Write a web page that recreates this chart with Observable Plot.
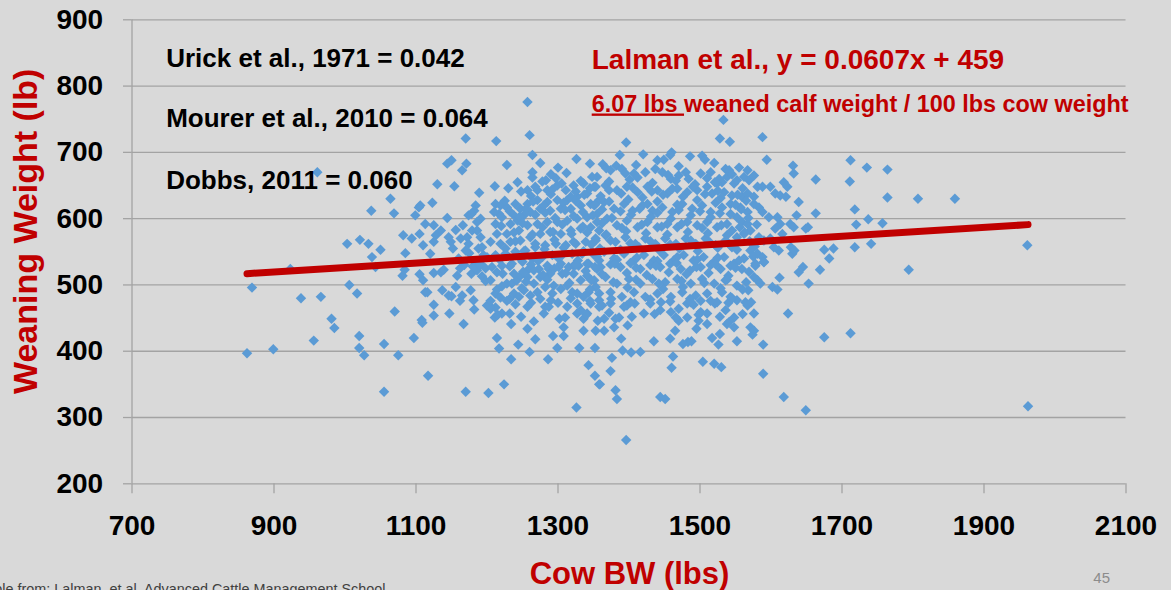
<!DOCTYPE html>
<html>
<head>
<meta charset="utf-8">
<script src="https://cdn.jsdelivr.net/npm/d3@7"></script>
<script src="https://cdn.jsdelivr.net/npm/@observablehq/plot@0.6"></script>
<style>
  html, body { margin: 0; padding: 0; background: #d9d9d9; overflow: hidden; }
  #chart { width: 1171px; height: 590px; }
</style>
</head>
<body>
<div id="chart"></div>
<script>
// ---------- tick values ----------
const xTicks = [700, 900, 1100, 1300, 1500, 1700, 1900, 2100];
const yTicks = [200, 300, 400, 500, 600, 700, 800, 900];

// ---------- observations: [cow BW (lbs), weaning weight (lb)] ----------
const leftTail = [
  [862,397],[869,496],[899,403],[923,524],[938,480],[956,416],[966,482],[961,670],[981,449],[985,435],
  [1003,562],[1006,500],[1017,487],[1020,423],[1020,405],[1021,568],[1027,394],[1033,562],[1037,612],[1038,542],
  [1043,527],[1050,553],[1055,411],[1055,339],[1064,630],[1069,608],[1070,460],[1075,394],[1082,575],[1085,548],
  [1094,570],[1099,605],[1081,514],[1084,523],[1097,420]
];

const band1100 = [
  [1104,617],[1106,620],[1105,577],[1110,560],[1113,592],[1123,624],[1125,590],[1135,582],[1128,575],[1120,547],
  [1125,565],[1130,652],[1144,683],[1150,688],[1144,601],[1146,572],[1149,565],[1105,516],[1110,507],[1113,489],
  [1116,489],[1125,518],[1135,519],[1139,523],[1137,492],[1146,484],[1150,483],[1108,447],[1109,443],[1117,363],
  [1125,470],[1125,454],[1147,457],[1170,721],[1165,673],[1171,683],[1154,649],[1156,583],[1163,570],[1172,572],
  [1174,562],[1184,620],[1182,612],[1174,605],[1191,600],[1186,595],[1179,582],[1186,582],[1166,590],[1193,557],
  [1191,572],[1189,639],[1158,514],[1156,497],[1165,484],[1162,476],[1177,492],[1181,477],[1178,517],[1186,522],
  [1193,513],[1198,506],[1200,469],[1205,464],[1167,441],[1170,339],[1182,463],[1202,337],[1178,607],
  [1160,540],[1168,530],[1175,548],[1185,535],[1195,545],[1152,555],[1180,528],[1190,530],[1170,552],[1198,525],
  [1162,525],[1188,555]
];

const band1200 = [
  [1257,776],[1260,726],[1264,696],[1213,717],[1326,690],[1264,670],[1264,662],[1211,649],[1243,655],[1297,661],
  [1312,669],[1283,658],
  [1212,622],[1219,620],[1228,617],[1217,607],[1221,602],[1210,610],[1212,592],
  [1257,643],[1271,643],[1285,643],[1299,650],[1311,643],[1322,650],[1336,653],[1351,648],[1355,663],[1341,638],
  [1327,633],[1313,628],[1299,628],[1285,625],[1271,628],[1257,622],[1247,615],[1238,605],[1233,592],[1243,597],
  [1252,605],[1261,610],[1275,615],[1289,612],[1304,615],[1318,615],[1332,620],[1346,622],[1358,628],[1355,607],
  [1341,602],[1327,600],[1313,597],[1299,595],[1285,595],[1271,592],[1257,590],[1245,582],[1228,577],[1214,577],
  [1205,565],[1219,562],[1233,565],[1247,567],[1261,572],[1275,577],[1289,580],[1304,577],[1318,582],[1332,585],
  [1346,587],[1358,582],[1353,567],[1339,565],[1325,562],[1311,560],[1297,562],[1282,560],[1268,557],[1254,552],
  [1240,550],[1226,547],[1212,545],[1200,542],[1191,532],[1207,527],[1221,529],[1235,532],[1250,535],[1264,540],
  [1278,542],[1292,545],[1306,545],[1320,547],[1334,547],[1348,550],[1358,537],[1343,532],[1329,529],[1315,527],
  [1301,527],[1287,524],[1273,524],[1259,524],
  [1212,466],[1211,451],[1204,468],[1221,457],[1232,457],[1234,441],[1228,476],[1257,467],[1292,487],[1313,467],
  [1327,457],[1332,462],[1336,431],[1353,431],[1356,446],[1346,472],[1214,420],[1217,404],[1224,350],[1234,388],
  [1244,410],[1257,434],[1266,445],[1268,418],[1260,399],[1286,388],[1293,423],[1299,405],[1308,423],[1308,436],
  [1302,449],[1326,315],[1330,405],[1343,379],[1352,405],[1352,363],[1358,350],
  [1212,487],[1219,481],[1214,493],[1221,498],[1228,502],[1235,502],[1242,507],[1247,514],[1238,487],[1245,482],
  [1252,492],[1261,484],[1271,489],[1275,479],[1282,467],[1287,467],[1294,499],[1304,494],[1313,499],[1320,489],
  [1327,487],[1336,482],[1343,489],[1353,497],[1358,477],[1332,507],[1341,514],[1322,517],[1306,517],[1289,517],
  [1275,512],[1266,522],[1257,512],[1285,529],[1304,532],[1322,529],[1341,532],[1355,524],[1327,472],[1336,449],
  [1341,457],[1266,502],[1238,517],[1214,519],[1205,507]
];

const band1350 = [
  [1533,749],[1528,721],[1542,716],[1588,723],[1594,689],[1396,715],[1363,682],[1387,696],[1382,680],[1420,697],
  [1440,688],[1449,689],[1460,700],[1458,696],[1486,694],[1503,695],[1507,689],[1631,680],[1632,668],[1618,655],
  [1623,648],[1639,625],[1636,605],[1627,592],[1632,587],[1652,587],[1630,547],[1645,527],[1581,648],[1588,648],
  [1599,648],[1606,638],[1613,635],[1621,633],[1583,617],[1588,610],[1597,602],[1609,602],[1613,592],[1606,585],
  [1616,577],[1583,572],[1590,567],[1599,570],[1571,552],[1581,547],[1588,542],[1590,535],[1578,529],[1604,557],
  [1611,552],[1628,557],[1633,552],[1559,633],[1567,638],[1576,633],[1576,622],[1557,617],[1567,610],[1552,602],
  [1559,595],[1567,592],[1571,582],[1562,577],[1552,572],[1536,675],[1541,673],[1538,663],[1531,655],[1524,653],
  [1548,653],[1552,658],[1562,663],[1569,658],[1576,665],[1567,673],
  [1374,673],[1390,675],[1407,668],[1423,670],[1437,675],[1447,670],[1459,660],[1470,665],[1484,660],[1501,668],
  [1515,670],[1527,660],
  [1353,648],[1367,650],[1383,643],[1397,648],[1412,640],[1426,648],[1440,643],[1454,638],[1468,645],[1482,640],
  [1496,643],[1510,648],[1517,638],[1534,640],[1545,635],
  [1351,620],[1365,625],[1379,615],[1393,622],[1405,612],[1419,620],[1433,612],[1447,617],[1461,610],[1475,622],
  [1489,615],[1503,620],[1515,610],[1531,617],[1543,622],
  [1355,595],[1369,600],[1383,590],[1397,597],[1412,587],[1426,595],[1440,587],[1454,592],[1468,587],[1482,595],
  [1496,590],[1510,595],[1524,587],[1538,592],[1545,582],
  [1353,570],[1367,575],[1381,565],[1395,572],[1409,562],[1423,570],[1437,562],[1451,570],[1466,562],[1480,570],
  [1494,562],[1508,570],[1522,560],[1536,567],[1545,557],
  [1351,545],[1365,550],[1379,540],[1393,547],[1407,537],[1421,545],[1435,537],[1449,545],[1463,537],[1477,545],
  [1491,537],[1505,542],[1520,535],[1534,542],[1548,532],[1562,540],[1360,527],[1388,527],[1416,524],[1444,527],
  [1473,524],[1501,527],[1529,524],
  [1396,266],[1444,331],[1451,328],[1618,331],[1649,311],[1589,366],[1381,341],[1383,328],[1359,350],[1374,370],
  [1376,390],[1460,375],[1462,392],[1504,384],[1520,381],[1530,376],[1624,457],[1639,519],[1653,502],[1612,511],
  [1602,497],[1609,493],[1589,410],[1568,492],[1581,507],[1585,502],[1576,512],[1578,532],[1590,534],[1552,477],
  [1564,474],[1567,469],[1576,457],[1571,436],[1576,431],[1574,425],[1552,415],[1536,462],[1548,451],[1541,444],
  [1548,436],[1538,441],[1526,410],[1528,426],[1517,420],[1510,441],[1498,446],[1495,434],[1501,459],[1510,457],
  [1521,472],[1524,474],[1483,414],[1488,415],[1476,411],[1470,446],[1482,451],[1465,431],[1458,419],[1435,415],
  [1416,399],[1403,398],[1391,401],[1389,419],[1398,439],[1379,436],[1365,431],[1386,451],[1381,449],[1365,449],
  [1421,457],[1397,469],[1393,467],[1358,467],[1459,459],[1444,462],[1470,464],[1482,472],[1487,474],[1501,476],
  [1374,531],[1402,533],[1430,530],[1458,532],[1486,522],[1515,530],[1543,529],[1559,524],
  [1351,507],[1367,512],[1383,502],[1400,509],[1416,502],[1433,509],[1451,504],[1468,509],[1487,502],[1503,509],
  [1520,502],[1536,507],[1552,499],
  [1358,487],[1374,489],[1390,482],[1407,489],[1423,482],[1440,487],[1459,482],[1475,489],[1494,484],[1510,487],
  [1531,489],[1543,482],[1374,472],[1430,472]
];

const coreFill = [
  [1278,656],[1305,653],[1332,657],[1372,656],[1401,659],[1433,654],[1466,657],[1493,652],[1521,655],
  [1262,634],[1290,637],[1318,633],[1337,636],[1360,634],[1389,638],[1419,632],[1448,636],[1476,633],[1507,637],
  [1529,631],[1553,636],
  [1246,603],[1268,606],[1296,601],[1322,604],[1349,605],[1376,601],[1403,606],[1431,603],[1459,600],[1487,605],
  [1515,602],[1543,607],[1568,601],
  [1238,579],[1264,576],[1293,580],[1319,577],[1341,579],[1368,576],[1396,581],[1424,578],[1454,576],[1483,580],
  [1511,578],[1538,575],[1563,579],
  [1226,555],[1252,551],[1281,554],[1308,556],[1336,551],[1359,555],[1388,553],[1414,557],[1443,552],[1471,555],
  [1497,551],[1525,556],[1552,553],[1577,558],
  [1222,517],[1251,520],[1279,515],[1311,518],[1339,521],[1362,516],[1397,518],[1425,515],[1456,519],[1481,516],
  [1512,518],[1540,514],[1569,520],
  [1249,495],[1282,497],[1345,493],[1398,496],[1448,494],[1476,497],[1529,495],[1560,493],
  [1240,471],[1300,473],[1362,469],[1408,472],[1445,474],[1491,470],[1540,473]
];

const coreFill2 = [
  [1228,681],[1275,684],[1300,677],[1345,683],[1368,676],[1410,681],[1470,679],[1520,684],[1555,677],
  [1290,667],[1348,663],[1395,668],[1412,662],[1455,666],[1480,670],[1510,661],[1545,667],
  [1230,646],[1248,641],[1268,648],[1292,644],[1325,641],[1345,646],[1372,643],[1405,647],[1432,641],[1461,645],
  [1490,648],[1525,642],[1560,646],
  [1225,627],[1240,622],[1265,626],[1280,620],[1308,624],[1325,627],[1352,621],[1372,626],[1399,629],[1426,622],
  [1440,626],[1468,621],[1496,628],[1522,624],[1550,621],[1565,627],
  [1232,611],[1255,615],[1282,609],[1310,613],[1335,610],[1362,614],[1388,611],[1415,615],[1440,609],[1470,613],
  [1500,611],[1528,608],[1558,614],
  [1220,589],[1250,593],[1278,587],[1306,591],[1335,588],[1362,593],[1390,586],[1418,591],[1446,588],[1474,592],
  [1503,586],[1530,590],[1556,587],[1580,591],
  [1240,566],[1268,562],[1295,568],[1322,565],[1347,561],[1374,567],[1402,563],[1430,566],[1458,561],[1487,567],
  [1514,564],[1542,561],[1570,566],
  [1218,538],[1245,542],[1272,536],[1300,541],[1328,537],[1355,543],[1383,538],[1411,541],[1440,536],[1468,542],
  [1496,538],[1525,541],[1555,537],[1575,543],
  [1232,528],[1262,531],[1295,525],[1325,530],[1352,527],[1380,532],[1410,526],[1438,529],[1467,533],[1495,527],
  [1522,531],[1550,526],
  [1255,505],[1285,508],[1316,503],[1347,507],[1378,504],[1410,508],[1442,502],[1474,506],[1506,503],[1538,508],
  [1565,504],
  [1205,476],[1232,479],[1262,473],[1290,477],[1318,480],[1345,476],[1375,479],[1402,474],[1430,478],[1458,475],
  [1486,479],[1515,476],[1545,480],[1572,474],
  [1215,455],[1248,452],[1280,457],[1310,451],[1340,455],[1372,458],[1404,452],[1436,456],[1466,451],[1498,455],
  [1528,452],[1560,456]
];

const rightTail = [
  [1712,688],[1735,677],[1764,674],[1711,656],[1663,659],[1764,632],[1807,630],[1859,630],[1718,614],[1663,608],
  [1737,599],[1757,593],[1720,591],[1961,560],[1794,523],[1718,557],[1741,562],[1688,555],[1675,553],[1682,540],
  [1669,523],[1649,585],[1675,421],[1712,427],[1962,317]
];

// ---------- drawn regression line (end points) ----------
const fitLineX = [862, 1962];
const fitLineY = [517, 591];

// ---------- texts ----------
const studyNotes = ["Urick et al., 1971 = 0.042", "Mourer et al., 2010 = 0.064", "Dobbs, 2011 = 0.060"];
const fitLabel = "Lalman et al., y = 0.0607x + 459";
const fitNoteUnder = "6.07 lbs";
const fitNoteRest = "weaned calf weight / 100 lbs cow weight";
const xTitle = "Cow BW (lbs)";
const yTitle = "Weaning Weight (lb)";
const sourceNote = "Table from: Lalman, et al. Advanced Cattle Management School";
const pageNumber = "45";

// ---------- build ----------
const points = [...leftTail, ...band1100, ...band1200, ...band1350, ...coreFill, ...coreFill2, ...rightTail]
  .map(([cow, calf]) => ({cow, calf}));
const fit = fitLineX.map((x, i) => ({x, y: fitLineY[i]}));

const font = "'Liberation Sans', Arial, Helvetica, sans-serif";
const red = "#c00000";
const gridGray = "#a3a3a3";
const bold = {fontFamily: font, fontWeight: "bold"};

const note = (txt, o) => Plot.text([txt], {text: d => d, frameAnchor: "top-left", textAnchor: "start", lineAnchor: "bottom", ...bold, ...o});

const chart = Plot.plot({
  width: 1171,
  height: 590,
  marginLeft: 131.5,
  marginRight: 45.5,
  marginTop: 19.3,
  marginBottom: 106.7,
  style: {background: "#d9d9d9", fontFamily: font, color: "#000"},
  x: {domain: [700, 2100]},
  y: {domain: [200, 900]},
  marks: [
    Plot.gridY(yTicks, {stroke: gridGray, strokeOpacity: 1, strokeWidth: 1.3}),
    Plot.ruleX([700], {stroke: gridGray, strokeWidth: 1.3}),
    Plot.axisY(yTicks, {tickSize: 8.5, tickPadding: 20.4, stroke: gridGray, strokeWidth: 1.3, fill: "#000",
      fontSize: 28, ...bold, label: null, tickFormat: d3.format("d")}),
    Plot.axisX(xTicks, {tickSize: 10, tickPadding: 21.7, stroke: gridGray, strokeWidth: 1.3, fill: "#000",
      fontSize: 28, ...bold, label: null, tickFormat: d3.format("d")}),
    Plot.dot(points, {x: "cow", y: "calf", symbol: "diamond2", r: 4.7, fill: "#5b9bd5", stroke: "none"}),
    Plot.line(fit, {x: "x", y: "y", stroke: red, strokeWidth: 7, strokeLinecap: "round"}),
    note(studyNotes[0], {dx: 34.2, dy: 46.7, fontSize: 26, fill: "#000"}),
    note(studyNotes[1], {dx: 34.2, dy: 106.7, fontSize: 26, fill: "#000"}),
    note(studyNotes[2], {dx: 34.2, dy: 169, fontSize: 26, fill: "#000"}),
    note(fitLabel, {dx: 459.7, dy: 49, fontSize: 28, fill: red}),
    note(fitNoteUnder + " " + fitNoteRest, {dx: 459.7, dy: 91.7, fontSize: 23.4, fill: red}),
    Plot.text([yTitle], {text: d => d, frameAnchor: "left", rotate: -90, textAnchor: "middle", lineAnchor: "middle",
      dx: -106.3, dy: -20.5, fontSize: 34, fill: red, ...bold}),
    Plot.text([xTitle], {text: d => d, frameAnchor: "bottom", textAnchor: "middle", lineAnchor: "bottom",
      dx: 0.5, dy: 99.7, fontSize: 31, fill: red, ...bold}),
    Plot.text([sourceNote], {text: d => d, frameAnchor: "bottom-left", textAnchor: "end", lineAnchor: "bottom",
      dx: 253.5, dy: 110, fontSize: 14.4, fill: "#404040", fontFamily: font}),
    Plot.text([pageNumber], {text: d => d, frameAnchor: "bottom-right", textAnchor: "end", lineAnchor: "bottom",
      dx: -16, dy: 99.4, fontSize: 15, fill: "#8c8c8c", fontFamily: font})
  ]
});

// underline only the "6.07 lbs" part of the red subtitle
d3.select(chart).selectAll("text")
  .filter(function () { return this.textContent === fitNoteUnder + " " + fitNoteRest; })
  .each(function () {
    const t = d3.select(this);
    t.text(null);
    t.append("tspan").style("text-decoration", "underline").text(fitNoteUnder + "\u00a0");
    t.append("tspan").text(fitNoteRest);
  });

document.getElementById("chart").appendChild(chart);
</script>
</body>
</html>
